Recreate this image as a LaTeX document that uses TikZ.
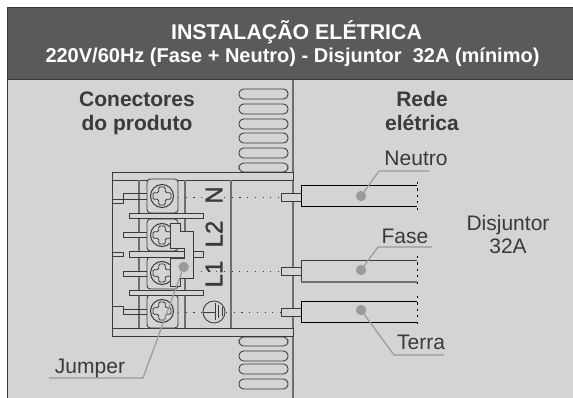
\documentclass[tikz,border=0pt]{standalone}
\usepackage{fontspec}
\setmainfont{Liberation Sans}
\newfontfamily\termfont[FakeBold=1.2]{Liberation Sans}
\definecolor{panel}{HTML}{D3D4D6}
\definecolor{head}{HTML}{5A5A5C}
\definecolor{ink}{HTML}{3A3A3C}
\definecolor{lead}{HTML}{9A9B9D}
\definecolor{wall}{HTML}{6E6F71}
\tikzset{
  lbl/.style={font=\fontsize{15.75pt}{18pt}\selectfont,text=ink,inner sep=0pt,anchor=base},
  blbl/.style={font=\fontsize{15.75pt}{18pt}\selectfont\bfseries,text=ink,inner sep=0pt,anchor=base},
  title/.style={font=\fontsize{16pt}{18pt}\selectfont\bfseries,text=white,inner sep=0pt,anchor=base},
  sub/.style={font=\fontsize{15pt}{18pt}\selectfont\bfseries,text=white,inner sep=0pt,anchor=base},
  term/.style={font=\termfont\fontsize{18pt}{20pt}\selectfont,text=ink,inner sep=0pt,rotate=90},
  part/.style={draw=ink,line width=0.65pt},
  slot/.style={draw=ink,line width=0.65pt,rounded corners=3.4pt},
  dotline/.style={draw=ink,line width=0.6pt,dash pattern=on 0.8pt off 5pt},
  dotend/.style={draw=black,line width=0.65pt,dash pattern=on 1.6pt off 3.2pt},
  leader/.style={draw=lead,line width=0.9pt},
  spot/.style={circle,fill=lead,draw=none,minimum size=7.8pt,inner sep=0pt},
  wire/.style={draw=black,line width=0.75pt},
}
\newcommand{\screw}[2]{%
  \draw[part,line width=0.75pt] (#1,#2) circle[radius=11.5];
  \draw[part,rounded corners=1pt,fill=panel]
    (#1-3.3,#2-9) -- (#1+3.3,#2-9) -- (#1+3.3,#2-3.3) -- (#1+9,#2-3.3) -- (#1+9,#2+3.3) -- (#1+3.3,#2+3.3)
    -- (#1+3.3,#2+9) -- (#1-3.3,#2+9) -- (#1-3.3,#2+3.3) -- (#1-9,#2+3.3) -- (#1-9,#2-3.3) -- (#1-3.3,#2-3.3) -- cycle;}
\begin{document}
\begin{tikzpicture}[x=0.75pt,y=-0.75pt]
\useasboundingbox (0,0) rectangle (573,398);
\fill[white] (0,0) rectangle (573,398);
\fill[panel] (7,8) rectangle (573,398);
\fill[head] (7,8) rectangle (573,80);
\draw[ink,line width=0.9pt] (7.5,8) -- (7.5,398);
\draw[ink,line width=0.75pt] (7,8) -- (573,8);
\draw[ink,line width=0.75pt] (7,80) -- (573,80);
\node[title] (t1) at (296.5,40) {INSTALAÇÃO ELÉTRICA};
\node[sub] (t2) at (292.5,63) {220V/60Hz (Fase + Neutro) - Disjuntor\ \ 32A (mínimo)};
\node[blbl] (c1) at (137,107) {Conectores};
\node[blbl] (c2) at (137,131) {do produto};
\node[blbl] (r1) at (422,107) {Rede};
\node[blbl] (r2) at (422,131) {elétrica};
% slots
\foreach \a/\b in {89/99,104/114,119/129,133/143,148/158,163/172,337/346,351/361,364/374,379/389}
  \draw[slot] (239,\a) rectangle (288,\b);
% wall
\draw[wall,line width=1.5pt] (293,80) -- (293,398);
% dotted lines
\draw[dotline] (178,197) -- (204,197);
\draw[dotline] (224,197) -- (281,197);
\draw[dotline] (193,271) -- (281,271);
\draw[dotline] (178,312) -- (203,312);
\draw[dotline] (226,312) -- (281,312);
% connector body
\draw[part,fill=panel] (112,172) rectangle (293,180);
\draw[part,fill=panel] (112,328) rectangle (293,336);
\draw[part] (112,180) -- (112,328);
\draw[wall,line width=1pt] (139,180) -- (139,328) (185,180) -- (185,328) (231,180) -- (231,328);
% pins
\draw[part] (147,193) -- (123,193) -- (123,199) -- (147,199);
\draw[part] (112,199) -- (123,199) -- (123,203) -- (112,203);
\draw[part,fill=panel] (123,232) rectangle (147,237);
\draw[part,fill=panel] (123,271) rectangle (147,276);
\draw[part] (147,309) -- (123,309) -- (123,314) -- (147,314);
\draw[part] (112,306) -- (123,306) -- (123,310);
\draw[part,fill=panel] (112,252) rectangle (123,256);
% terminals
\foreach \a/\b in {179/213,219/251,257/289,295/328}
  \draw[part,rounded corners=2.5pt,fill=panel] (147,\a) rectangle (178,\b);
% bars
\draw[part,fill=panel] (129,213) rectangle (203,218);
\draw[part,fill=panel] (129,290) rectangle (203,295);
\draw[part,fill=panel] (129,251) rectangle (185,257);
\draw[part,fill=panel] (193,251) rectangle (203,257);
% screws
\screw{162}{196}
\screw{162}{235}
\screw{162}{273}
\screw{162}{311}
% jumper
\draw[part,fill=panel] (170.3,223.3) -- (170.3,248.3) -- (184.7,248.3) -- (184.7,258) -- (170.3,258)
  -- (170.3,286.7) -- (180,286.7) -- (180,278) -- (193.3,278) -- (193.3,231.3) -- (180,231.3) -- (180,223.3) -- cycle;
% labels on connector
\node[term] (n) at (214,195) {N};
\node[term] (l2) at (214,234) {L2};
\node[term] (l1) at (214,274) {L1};
% ground
\draw[part] (214,312) circle[radius=11];
\draw[part] (203,312) -- (215,312);
\draw[part] (215,303) -- (215,320) (218.5,305) -- (218.5,318) (222,307) -- (222,316);
% stubs
\draw[part,fill=panel] (281,193) rectangle (301,201);
\draw[part,fill=panel] (281,267) rectangle (301,275);
\draw[part,fill=panel] (281,308) rectangle (301,316);
% wires
\draw[wire] (417,186) -- (301,186) -- (301,207) -- (417,207);
\draw[wire,draw=ink] (417,261) -- (301,261) -- (301,282);
\draw[wire,draw=wall,line width=1.1pt] (301,282) -- (417,282);
\draw[wire] (417,301) -- (301,301) -- (301,322) -- (417,322);
\draw[dotend] (417,182) -- (417,212);
\draw[dotend] (417,256) -- (417,287);
\draw[dotend] (417,296) -- (417,327);
% spots and leaders
\node[spot] (sn) at (361,196) {};
\node[spot] (sf) at (361,270) {};
\node[spot] (st) at (361,310) {};
\node[spot] (sj) at (183.7,267) {};
\coordinate (kn) at (379,171); \coordinate (en) at (429,171);
\coordinate (kf) at (378,247); \coordinate (ef) at (432,247);
\coordinate (kt) at (394,355); \coordinate (et) at (444,355);
\coordinate (kj) at (143,378); \coordinate (ej) at (49,378);
\draw[leader] (sn) -- (kn) -- (en);
\draw[leader] (sf) -- (kf) -- (ef);
\draw[leader] (st) -- (kt) -- (et);
\draw[leader] (sj) -- (kj) -- (ej);
\node[lbl] (neutro) at (416,166) {Neutro};
\node[lbl] (fase) at (405,244) {Fase};
\node[lbl] (terra) at (421,349) {Terra};
\node[lbl] (jumper) at (90,373) {Jumper};
\node[lbl] (d1) at (508,231) {Disjuntor};
\node[lbl] (d2) at (508,254) {32A};
\end{tikzpicture}
\end{document}
